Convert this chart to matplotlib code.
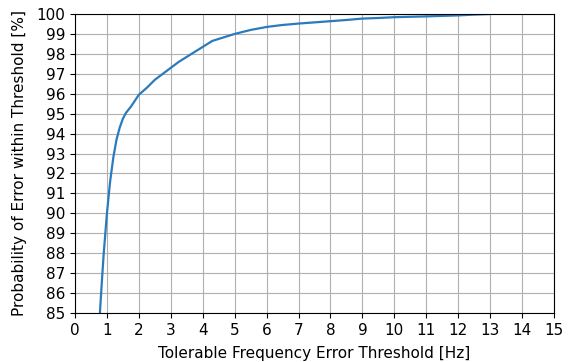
import matplotlib
matplotlib.use("Agg")
import matplotlib.pyplot as plt
import numpy as np

threshold_hz = [0.78, 0.85, 0.9, 1.0, 1.1, 1.2, 1.3, 1.4, 1.5, 1.6, 1.75, 2.0,
                2.25, 2.5, 2.75, 3.0, 3.25, 3.5, 4.0, 4.3, 4.6, 5.0, 5.5, 6.0,
                6.5, 7.0, 7.5, 8.0, 8.5, 9.0, 9.5, 10.0, 11.0, 12.0, 12.5, 13.0]
probability_pct = [85.0, 86.8, 88.0, 90.0, 91.6, 92.8, 93.7, 94.3, 94.75, 95.05, 95.35, 95.95,
                   96.3, 96.7, 97.0, 97.3, 97.6, 97.85, 98.35, 98.65, 98.8, 99.0, 99.2, 99.35,
                   99.45, 99.52, 99.58, 99.64, 99.7, 99.77, 99.8, 99.84, 99.88, 99.93, 99.97, 100.0]

fig = plt.figure(figsize=(5.68, 3.62), dpi=100)
ax = fig.add_axes([75/568, 49/362, 479/568, 299/362])
ax.plot(threshold_hz, probability_pct, color="#2a7bbd", linewidth=1.6)
ax.set_xlim(0, 15)
ax.set_ylim(85, 100)
ax.set_xticks(np.arange(0, 16, 1))
ax.set_yticks(np.arange(85, 101, 1))
ax.tick_params(labelsize=11)
ax.grid(True)
ax.set_xlabel("Tolerable Frequency Error Threshold [Hz]", fontsize=11, labelpad=6)
ax.set_ylabel("Probability of Error within Threshold [%]", fontsize=11, labelpad=7)
fig.savefig("out.png", dpi=100)
